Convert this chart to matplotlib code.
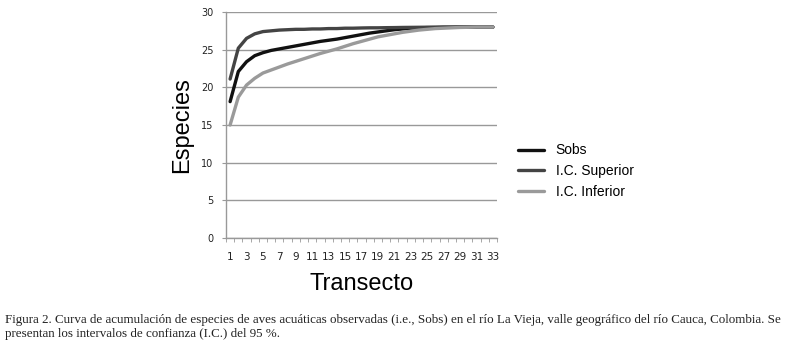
import matplotlib
matplotlib.use("Agg")
import matplotlib.pyplot as plt
import numpy as np

transecto = list(range(1, 34))
sobs = [18.1, 22.1, 23.4, 24.2, 24.6, 24.9, 25.1, 25.3, 25.5, 25.7, 25.9, 26.1, 26.25, 26.4, 26.6, 26.8,
        27.0, 27.2, 27.35, 27.5, 27.65, 27.75, 27.85, 27.9, 27.93, 27.95, 27.97, 27.98, 28.0, 28.0, 28.0, 28.0, 28.0]
ic_sup = [21.1, 25.2, 26.5, 27.1, 27.4, 27.5, 27.6, 27.65, 27.7, 27.7, 27.75, 27.75, 27.8, 27.8, 27.85, 27.85,
          27.88, 27.9, 27.9, 27.92, 27.93, 27.95, 27.96, 27.97, 27.98, 27.98, 28.0, 28.0, 28.0, 28.0, 28.0, 28.0, 28.0]
ic_inf = [15.0, 18.7, 20.3, 21.2, 21.9, 22.3, 22.7, 23.1, 23.45, 23.8, 24.15, 24.5, 24.8, 25.1, 25.45, 25.8,
          26.1, 26.4, 26.7, 26.9, 27.1, 27.3, 27.45, 27.6, 27.7, 27.8, 27.85, 27.9, 27.95, 27.97, 28.0, 28.0, 28.0]
series_names = ["Sobs", "I.C. Superior", "I.C. Inferior"]
colors = ["#111111", "#444444", "#9a9a9a"]
yticks = [0, 5, 10, 15, 20, 25, 30]
xticklabels = [str(i) for i in range(1, 34, 2)]
caption = ("Figura 2. Curva de acumulación de especies de aves acuáticas observadas (i.e., Sobs) en el río La Vieja, "
           "valle geográfico del río Cauca, Colombia. Se\npresentan los intervalos de confianza (I.C.) del 95 %.")

fig = plt.figure(figsize=(8.1, 3.45), dpi=100)
ax = fig.add_axes([226/810, 1-238/345, (497-226)/810, (238-12)/345])

for vals, name, c in zip([sobs, ic_sup, ic_inf], series_names, colors):
    ax.plot(transecto, vals, color=c, lw=2.4, label=name, solid_capstyle="round")

ax.set_xlim(0.5, 33.5)
ax.set_ylim(0, 30)
ax.set_yticks(yticks)
ax.yaxis.grid(True, color="#999999", lw=1.0)
ax.set_axisbelow(True)
for s in ["top", "right"]:
    ax.spines[s].set_visible(False)
for s in ["left", "bottom"]:
    ax.spines[s].set_color("#999999")
    ax.spines[s].set_linewidth(1.0)
ax.tick_params(axis="y", length=3, color="#999999", labelsize=7, labelcolor="#222222", pad=6)
ax.set_xticks(range(1, 34, 2))
ax.set_xticklabels(xticklabels)
ax.set_xticks(np.arange(0.5, 34, 1), minor=True)
ax.tick_params(axis="x", which="major", length=0, labelsize=7.5, labelcolor="#222222", pad=10)
ax.tick_params(axis="x", which="minor", length=3, color="#999999")
ax.set_ylabel("Especies", fontsize=17, family="Liberation Sans", labelpad=6)
ax.set_xlabel("Transecto", fontsize=17, family="Liberation Sans", labelpad=8)

leg = ax.legend(loc="center left", bbox_to_anchor=(1.03, 0.295), frameon=False,
                prop={"family": "Liberation Sans", "size": 10}, handlelength=1.9,
                handletextpad=0.85, labelspacing=0.5)

fig.text(5/810, 1-327/345, caption, fontsize=9.4, family="Liberation Serif", va="center", ha="left",
         color="#222222", linespacing=1.2)

fig.savefig("out.png", dpi=100)
